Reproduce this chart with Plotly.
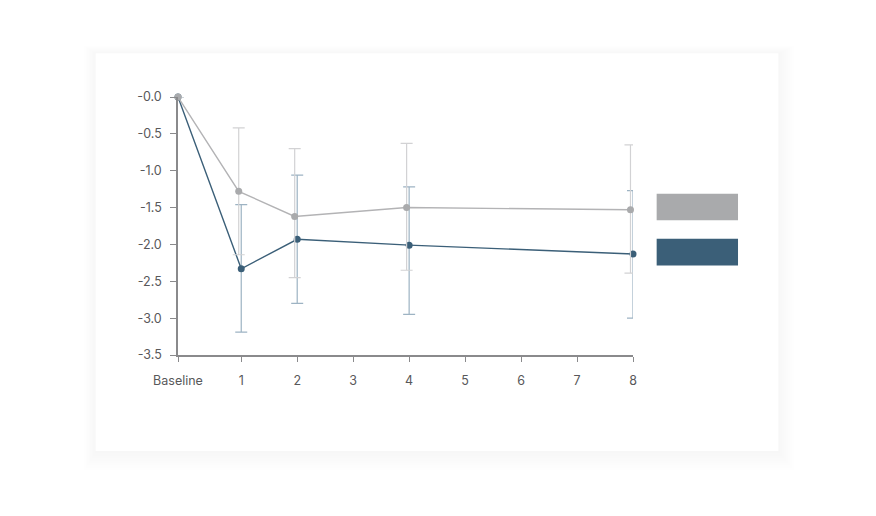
import plotly.graph_objects as go

# ---- data ----
tick_labels = ["Baseline", "1", "2", "3", "4", "5", "6", "7", "8"]
tick_positions = [-0.13, 1, 2, 3, 4, 5, 6, 7, 8]

visit_x = [-0.13, 1, 2, 4, 8]

grey_mean = [0.0, -1.28, -1.62, -1.50, -1.53]
grey_upper = [None, -0.42, -0.70, -0.63, -0.65]
grey_lower = [None, -2.14, -2.45, -2.35, -2.39]

blue_mean = [0.0, -2.33, -1.93, -2.01, -2.13]
blue_upper = [None, -1.46, -1.06, -1.22, -1.27]
blue_lower = [None, -3.19, -2.80, -2.95, -3.00]

y_ticks = [0, -0.5, -1.0, -1.5, -2.0, -2.5, -3.0, -3.5]
y_tick_text = ["-0.0", "-0.5", "-1.0", "-1.5", "-2.0", "-2.5", "-3.0", "-3.5"]

GREY_LINE = "#b3b3b5"
GREY_MARK = "#a9aaac"
GREY_ERR = "#d2d2d4"
BLUE_LINE = "#3b5f78"
BLUE_ERR = "#9db3c3"


def err_arrays(mean, upper, lower):
    plus = [0 if u is None else u - m for m, u in zip(mean, upper)]
    minus = [0 if l is None else m - l for m, l in zip(mean, lower)]
    return plus, minus


def shifted(xs, d):
    return [x if i == 0 else x + d for i, x in enumerate(xs)]


fig = go.Figure()

gp, gm = err_arrays(grey_mean, grey_upper, grey_lower)
bp, bm = err_arrays(blue_mean, blue_upper, blue_lower)

fig.add_trace(go.Scatter(
    x=visit_x, y=blue_mean, mode="lines+markers",
    line=dict(color=BLUE_LINE, width=1.4),
    marker=dict(color=BLUE_LINE, size=7),
    error_y=dict(type="data", symmetric=False, array=bp, arrayminus=bm,
                 color=BLUE_ERR, thickness=1.2, width=6),
    cliponaxis=False, showlegend=False, hoverinfo="skip"))

fig.add_trace(go.Scatter(
    x=shifted(visit_x, -0.045), y=grey_mean, mode="lines+markers",
    line=dict(color=GREY_LINE, width=1.4),
    marker=dict(color=GREY_MARK, size=7),
    error_y=dict(type="data", symmetric=False, array=gp, arrayminus=gm,
                 color=GREY_ERR, thickness=1.2, width=6),
    cliponaxis=False, showlegend=False, hoverinfo="skip"))

# ---- screen geometry of the plot area (page body has an 8px margin) ----
OFF = 8
L, R, T, B = 177.5, 633.3, 96.7, 355.0
W, H = R - L, B - T


def px(xp):
    return (xp - L) / W


def py(yp):
    return (B - yp) / H


shapes = []
for i in range(8, 0, -1):
    shapes.append(dict(type="rect", xref="paper", yref="paper", layer="below",
                       x0=px(95 - i * 1.5), x1=px(779 + i * 2),
                       y0=py(451 + i * 2.5), y1=py(53 - i * 1.0),
                       line=dict(width=0), fillcolor="rgba(0,0,0,0.0045)"))
shapes.append(dict(type="rect", xref="paper", yref="paper", layer="below",
                   x0=px(95), x1=px(779), y0=py(451), y1=py(53),
                   line=dict(width=0), fillcolor="white"))
# legend swatches (text-less, as in the reference)
shapes.append(dict(type="rect", xref="paper", yref="paper",
                   x0=px(657), x1=px(738.5), y0=py(220), y1=py(193.5),
                   line=dict(width=0), fillcolor=GREY_MARK))
shapes.append(dict(type="rect", xref="paper", yref="paper",
                   x0=px(657), x1=px(738.5), y0=py(265.5), y1=py(238.5),
                   line=dict(width=0), fillcolor=BLUE_LINE))

FONT = dict(family="Inter, 'Noto Sans', sans-serif", size=12.5, color="#58585a")

fig.update_layout(
    width=876, height=516,
    margin=dict(l=L - OFF, r=876 + OFF - R, t=T - OFF, b=516 + OFF - B, pad=0),
    paper_bgcolor="white", plot_bgcolor="rgba(0,0,0,0)",
    font=FONT,
    shapes=shapes,
    showlegend=False,
)

fig.update_xaxes(
    range=[-0.13, 8], tickvals=tick_positions, ticktext=tick_labels,
    showgrid=False, zeroline=False, showline=True, linecolor="#8a8a8c", linewidth=1.5,
    ticks="outside", ticklen=5, tickwidth=1.2, tickcolor="#8a8a8c",
    ticklabelstandoff=8, tickfont=FONT)

fig.update_yaxes(
    range=[-3.5, 0.0], tickvals=y_ticks, ticktext=y_tick_text,
    showgrid=False, zeroline=False, showline=True, linecolor="#8a8a8c", linewidth=1.5,
    ticks="outside", ticklen=6, tickwidth=1.2, tickcolor="#8a8a8c",
    ticklabelstandoff=6, tickfont=FONT)

fig.write_html("out.html")
